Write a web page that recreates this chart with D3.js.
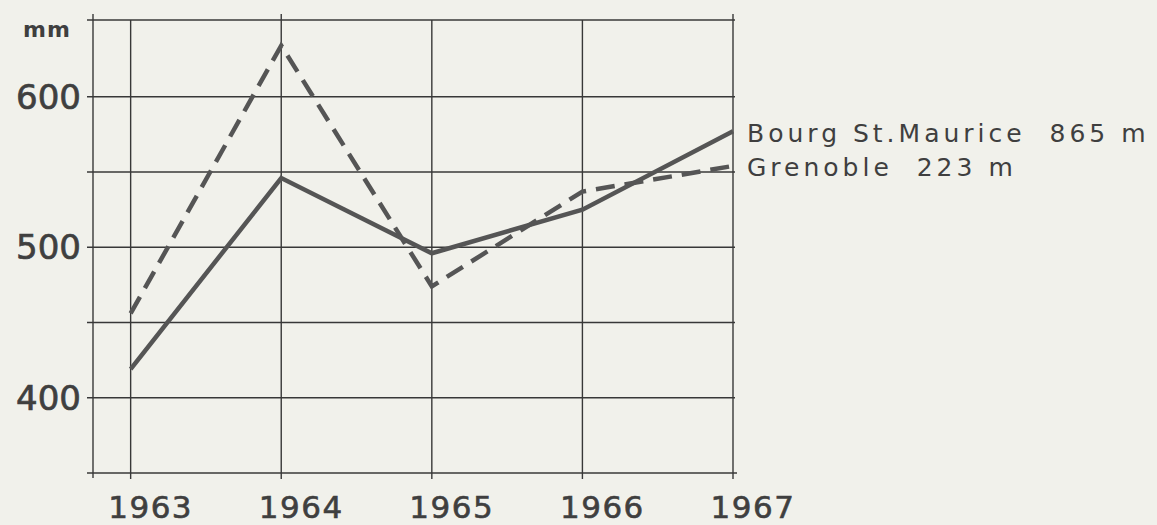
<!DOCTYPE html>
<html>
<head>
<meta charset="utf-8">
<script src="https://cdn.jsdelivr.net/npm/d3@7"></script>
<style>
  body { margin: 0; background: #f1f1eb; }
  svg { display: block; }
  .grid line { stroke: #383838; stroke-width: 1.4px; }
  text { fill: #3f3f3f; font-family: "DejaVu Sans", sans-serif; }
</style>
</head>
<body>
<svg></svg>
<script>
var years = [1963, 1964, 1965, 1966, 1967];
var bourg = [419, 546, 496, 525, 577];
var grenoble = [456, 634, 474, 537, 554];
var yTicks = [400, 450, 500, 550, 600, 651];
var yLabels = [400, 500, 600];
var seriesNames = ["Bourg St.Maurice  865 m", "Grenoble  223 m"];

var width = 1157, height = 525;

var svg = d3.select("svg")
    .attr("width", width)
    .attr("height", height);

var x = d3.scaleLinear().domain([1962.75, 1967]).range([93, 733]);
var y = d3.scaleLinear().domain([350, 651]).range([473, 20]);

var g = svg.append("g").attr("class", "grid");

// horizontal grid lines, with small ticks left of the axis
g.selectAll(".hline")
    .data(yTicks)
    .enter().append("line")
    .attr("x1", x.range()[0] - 6)
    .attr("x2", x(1967) + 2)
    .attr("y1", function(d) { return y(d); })
    .attr("y2", function(d) { return y(d); });

// bottom axis line
g.append("line")
    .attr("x1", x.range()[0] - 6)
    .attr("x2", x(1967) + 4)
    .attr("y1", y(350))
    .attr("y2", y(350));

// left axis line
g.append("line")
    .attr("x1", x.range()[0])
    .attr("x2", x.range()[0])
    .attr("y1", y(651) - 6)
    .attr("y2", y(350) + 5);

// vertical year lines, with ticks below the axis
g.selectAll(".vline")
    .data(years)
    .enter().append("line")
    .attr("x1", function(d) { return x(d); })
    .attr("x2", function(d) { return x(d); })
    .attr("y1", function(d) { return d === 1964 || d === 1967 ? y(651) - 6 : y(651); })
    .attr("y2", y(350) + 6);

// y labels
svg.selectAll(".ylab")
    .data(yLabels)
    .enter().append("text")
    .attr("x", 81)
    .attr("y", function(d) { return y(d) + 12; })
    .attr("text-anchor", "end")
    .style("font-size", "34px")
    .style("stroke", "#3f3f3f")
    .style("stroke-width", "0.7px")
    .text(function(d) { return d; });

svg.append("text")
    .attr("x", 23)
    .attr("y", 37)
    .style("font-size", "22px")
    .style("font-weight", "bold")
    .style("letter-spacing", "1px")
    .text("mm");

// x labels
svg.selectAll(".xlab")
    .data(years)
    .enter().append("text")
    .attr("x", function(d) { return x(d) + 20; })
    .attr("y", 518)
    .attr("text-anchor", "middle")
    .style("font-size", "31px")
    .style("letter-spacing", "1.5px")
    .style("stroke", "#3f3f3f")
    .style("stroke-width", "0.6px")
    .text(function(d) { return d; });

var line = d3.line()
    .x(function(d, i) { return x(years[i]); })
    .y(function(d) { return y(d); });

svg.append("path")
    .attr("d", line(bourg))
    .attr("fill", "none")
    .attr("stroke", "#555555")
    .attr("stroke-width", 4.5)
    .attr("stroke-linejoin", "miter");

svg.append("path")
    .attr("d", line(grenoble))
    .attr("fill", "none")
    .attr("stroke", "#555555")
    .attr("stroke-width", 4.5)
    .attr("stroke-dasharray", "19 10");

// series labels at the right end
svg.selectAll(".slab")
    .data(seriesNames)
    .enter().append("text")
    .attr("x", 747)
    .attr("y", function(d, i) { return i === 0 ? 142 : 176; })
    .style("font-size", "25px")
    .style("letter-spacing", "4px")
    .style("white-space", "pre")
    .text(function(d) { return d; });
</script>
</body>
</html>
